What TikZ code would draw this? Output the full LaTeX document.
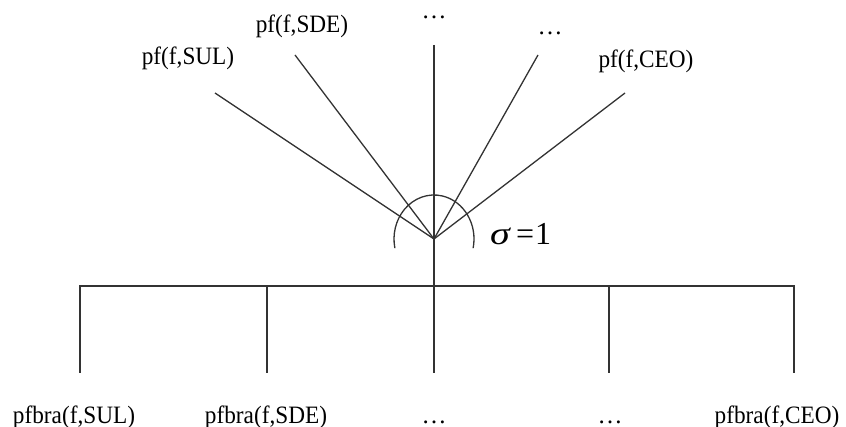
\documentclass[tikz,border=0pt]{standalone}
\usepackage{fontspec}
\setmainfont{Liberation Serif}
\newcommand\sqz[1]{\scalebox{0.93}[1]{#1}}
\begin{document}
\begin{tikzpicture}[x=1pt,y=-1pt,
  ln/.style={line width=1.3pt,draw=black!80},
  lbl/.style={anchor=base,inner sep=0pt,font=\fontsize{25}{30}\selectfont},
  sig/.style={anchor=base west,inner sep=0pt,font=\fontsize{32}{36}\selectfont}]
\useasboundingbox (0,0) rectangle (846,427);
% centre and line ends
\coordinate (c) at (434,239);
\coordinate (t1) at (215,93);
\coordinate (t2) at (295,55);
\coordinate (t3) at (434,45);
\coordinate (t4) at (538,55);
\coordinate (t5) at (625,93);
\coordinate (b3) at (434,373);
% bracket
\coordinate (h1) at (80,286);
\coordinate (h2) at (267,286);
\coordinate (h4) at (609,286);
\coordinate (h5) at (794,286);
\coordinate (d1) at (80,373);
\coordinate (d2) at (267,373);
\coordinate (d4) at (609,373);
\coordinate (d5) at (794,373);
% labels
\node[lbl] (l1) at (188,65) {\sqz{pf(f,SUL)}};
\node[lbl] (l2) at (302,33) {\sqz{pf(f,SDE)}};
\node[lbl] (l3) at (434,19) {…};
\node[lbl] (l4) at (550,35) {…};
\node[lbl] (l5) at (646,68) {\sqz{pf(f,CEO)}};
\node[lbl] (m1) at (74,423) {\sqz{pfbra(f,SUL)}};
\node[lbl] (m2) at (266,423) {\sqz{pfbra(f,SDE)}};
\node[lbl] (m3) at (434,423) {…};
\node[lbl] (m4) at (610,423) {…};
\node[lbl] (m5) at (777,423) {\sqz{pfbra(f,CEO)}};
\node[sig] (s) at (490,245) {\scalebox{1.25}[1]{\textit{σ}}\hspace{5pt}=\hspace{1pt}1};
% lines
\draw[ln] (c) -- (t1);
\draw[ln] (c) -- (t2);
\draw[ln] (t3) -- (b3);
\draw[ln] (c) -- (t4);
\draw[ln] (c) -- (t5);
\draw[ln] ([shift={(-12:40pt and 44pt)}]c) arc[start angle=-12,end angle=192,x radius=40pt,y radius=44pt];
\draw[ln] (d1) -- (h1) -- (h5) -- (d5);
\draw[ln] (h2) -- (d2);
\draw[ln] (h4) -- (d4);
\end{tikzpicture}
\end{document}
